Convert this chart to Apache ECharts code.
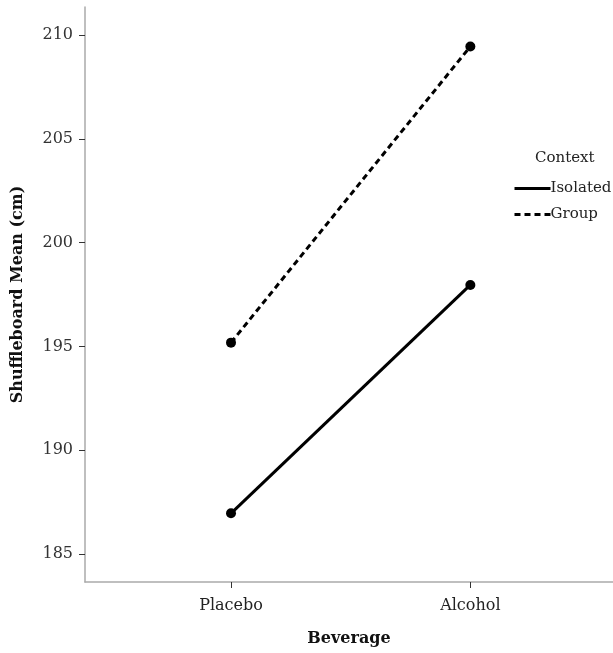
<!DOCTYPE html>
<html><head><meta charset="utf-8">
<script src="https://cdn.jsdelivr.net/npm/echarts@6/dist/echarts.min.js"></script>
<style>html,body{margin:0;padding:0;background:#fff}#c{width:613px;height:653px}</style>
</head><body><div id="c"></div>
<script>
const categories = ['Placebo', 'Alcohol'];
const seriesNames = ['Isolated', 'Group'];
const isolatedValues = [186.96, 197.96];
const groupValues = [195.18, 209.45];
const yTicks = [185, 190, 195, 200, 205, 210];
const xTitle = 'Beverage';
const yTitle = 'Shuffleboard Mean (cm)';
const legendTitle = 'Context';

const FONT = 'DejaVu Serif';
const chart = echarts.init(document.getElementById('c'), null, {renderer: 'canvas'});
const toPts = vals => vals.map((v, i) => [i, v]);
chart.setOption({
  animation: false,
  backgroundColor: '#fff',
  title: {text: legendTitle, left: 530, top: 146, textStyle: {fontFamily: FONT, fontSize: 15, fontWeight: 'normal', color: '#222'}},
  legend: {
    orient: 'vertical', left: 508, top: 176, itemWidth: 36, itemHeight: 12, itemGap: 11,
    data: seriesNames,
    textStyle: {fontFamily: FONT, fontSize: 15, color: '#222', padding: [0, 0, 0, -5]},
    itemStyle: {opacity: 0},
    lineStyle: {width: 3}
  },
  grid: {left: 85, right: 0, top: 7, bottom: 71},
  xAxis: {
    type: 'value', min: -0.61, max: 1.596,
    name: xTitle, nameLocation: 'middle', nameGap: 49,
    nameTextStyle: {fontFamily: FONT, fontSize: 16, fontWeight: 'bold', color: '#111'},
    splitLine: {show: false},
    axisLine: {show: true, onZero: false, lineStyle: {color: '#aaa', width: 1.5}},
    axisTick: {show: true, customValues: [0, 1], length: 6, lineStyle: {color: '#333'}},
    axisLabel: {customValues: [0, 1], formatter: v => categories[Math.round(v)], margin: 16,
      fontFamily: FONT, fontSize: 16, color: '#222'}
  },
  yAxis: {
    type: 'value', min: 183.65, max: 211.35,
    name: yTitle, nameLocation: 'middle', nameGap: 59, nameRotate: 90,
    nameTextStyle: {fontFamily: FONT, fontSize: 16, fontWeight: 'bold', color: '#111'},
    splitLine: {show: false},
    axisLine: {show: true, onZero: false, lineStyle: {color: '#aaa', width: 1.5}},
    axisTick: {show: true, customValues: yTicks, length: 6, lineStyle: {color: '#333'}},
    axisLabel: {customValues: yTicks, margin: 12, fontFamily: FONT, fontSize: 16, color: '#333'}
  },
  series: [
    {name: seriesNames[0], type: 'line', data: toPts(isolatedValues), symbol: 'circle', symbolSize: 10,
      itemStyle: {color: '#000'}, lineStyle: {color: '#000', width: 3, type: 'solid'}},
    {name: seriesNames[1], type: 'line', data: toPts(groupValues), symbol: 'circle', symbolSize: 10,
      itemStyle: {color: '#000'}, lineStyle: {color: '#000', width: 3, type: [6, 4]}}
  ]
});
</script></body></html>
